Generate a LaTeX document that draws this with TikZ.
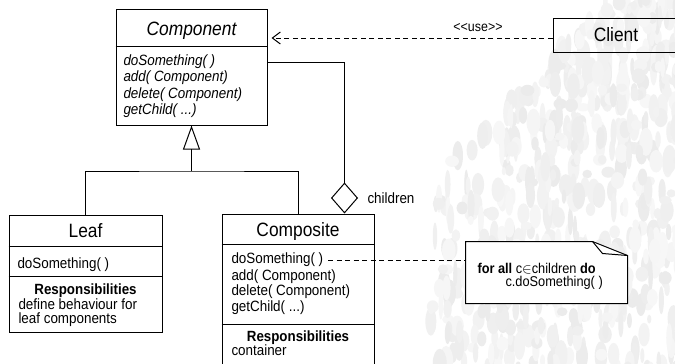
\documentclass[tikz,border=0pt]{standalone}
\usepackage{fontspec}
\setmainfont{Liberation Sans}[FakeStretch=0.9]
\usetikzlibrary{arrows.meta}

\begin{document}
\begin{tikzpicture}[x=1pt,y=-1pt,
  line width=1pt,
  umlbox/.style={draw, inner sep=0pt, line width=1pt},
  titletext/.style={inner sep=0pt, anchor=base, font=\fontsize{19.3}{21}\selectfont},
  optext/.style={inner sep=0pt, anchor=base west, font=\fontsize{14.9}{16}\selectfont},
  resphead/.style={inner sep=0pt, anchor=base, font=\fontsize{14.8}{16}\selectfont\bfseries},
  smalltext/.style={inner sep=0pt, anchor=base west, font=\fontsize{14.2}{15}\selectfont},
  generalization/.style={-{Triangle[open,length=24pt,width=17pt,line width=1pt]}},
  aggregation/.style={-{Diamond[open,length=31pt,width=27pt,line width=1pt]}},
  dependency/.style={dash pattern=on 5pt off 3.5pt,
    -{Straight Barb[length=8pt,width=12pt,line width=1pt]}, shorten >=4pt},
  noteline/.style={dash pattern=on 5pt off 3.5pt}
]
\useasboundingbox (0,0) rectangle (675,364);
\fill[white] (0,0) rectangle (675,364);
\clip (0,0) rectangle (675,364);

% faded texture behind the right half
\begin{scope}
  \pgfmathsetseed{42}
  \foreach \i in {1,...,700}{
    \pgfmathsetmacro\by{rnd*375}
    \pgfmathsetmacro\xo{max(430,610-\by)}
    \pgfmathsetmacro\bx{\xo+rnd*(690-\xo)}
    \pgfmathsetmacro\rw{2+rnd*5}
    \pgfmathsetmacro\rh{4+rnd*11}
    \pgfmathsetmacro\sh{3+rnd*5}
    \fill[black!\sh] (\bx,\by) ellipse [x radius=\rw, y radius=\rh];
  }
\end{scope}

% ---- Component (abstract) ----
\node[umlbox, minimum width=151pt, minimum height=116pt] (component) at (191.5,67) {};
\draw (component.west |- 0,46) -- (component.east |- 0,46);
\node[titletext, font=\fontsize{19.3}{21}\selectfont\itshape] (componentname) at (191.5,35) {Component};
\node[optext, font=\fontsize{14.9}{16}\selectfont\itshape] (cop1) at (123,65) {doSomething( )};
\node[optext, font=\fontsize{14.9}{16}\selectfont\itshape] (cop2) at (123,81.5) {add( Component)};
\node[optext, font=\fontsize{14.9}{16}\selectfont\itshape] (cop3) at (123,98) {delete( Component)};
\node[optext, font=\fontsize{14.9}{16}\selectfont\itshape] (cop4) at (123,114.5) {getChild( ...)};

% ---- Client ----
\node[umlbox, minimum width=147pt, minimum height=34pt] (client) at (626.5,35) {};
\node[titletext] (clientname) at (616,41.5) {Client};

% ---- Leaf ----
\node[umlbox, minimum width=153pt, minimum height=117pt] (leaf) at (85.5,273.5) {};
\draw (leaf.west |- 0,246) -- (leaf.east |- 0,246);
\draw (leaf.west |- 0,276) -- (leaf.east |- 0,276);
\node[titletext] (leafname) at (85.5,237) {Leaf};
\node[optext] (lop1) at (17,268) {doSomething( )};
\node[resphead] (leafresp) at (85.5,294.3) {Responsibilities};
\node[optext] (leafr1) at (18,309.3) {define behaviour for};
\node[optext] (leafr2) at (18,323.3) {leaf components};

% ---- Composite ----
\node[umlbox, minimum width=152pt, minimum height=158pt] (composite) at (298,293) {};
\draw (composite.west |- 0,244) -- (composite.east |- 0,244);
\draw (composite.west |- 0,324) -- (composite.east |- 0,324);
\node[titletext] (compositename) at (298,236.5) {Composite};
\node[optext] (kop1) at (231,263.5) {doSomething( )};
\node[optext] (kop2) at (231,280) {add( Component)};
\node[optext] (kop3) at (231,295.5) {delete( Component)};
\node[optext] (kop4) at (231,311.5) {getChild( ...)};
\node[resphead] (compresp) at (298,341.7) {Responsibilities};
\node[optext] (compr1) at (231,355.7) {container};

% ---- Note ----
\node[inner sep=0pt, minimum width=161pt, minimum height=61pt] (note) at (546.5,272.5) {};
\draw[fill=white] (note.north west) -- ([xshift=-35pt]note.north east)
  -- ([yshift=-14pt]note.north east) -- (note.south east) -- (note.south west) -- cycle;
\draw ([xshift=-35pt]note.north east) -- ([xshift=-25pt,yshift=-12pt]note.north east)
  -- ([yshift=-14pt]note.north east);
\node[smalltext] (noteline1) at (477,273) {\textbf{for all} c$\in$children \textbf{do}};
\node[smalltext] (noteline2) at (505,286.5) {c.doSomething( )};

% ---- Connectors ----
\coordinate (hub) at (191.5,171);
\draw[generalization] (hub) -- (component.south);
\draw (leaf.north) |- (hub) -| (composite.north);

\draw[aggregation] (component.east |- 0,62) -| ([xshift=46.5pt]composite.north);
\node[optext] (childrenlabel) at (367,203) {children};

\draw[dependency] (client.west |- 0,38) -- (component.east |- 0,38);
\node[inner sep=0pt, anchor=base, font=\fontsize{13.8}{15}\selectfont] (uselabel) at (478,31.5) {<{}<use>{}>};

\coordinate (opsend) at (328,260);
\draw[noteline] (opsend) -- (note.west |- opsend);
\end{tikzpicture}
\end{document}
